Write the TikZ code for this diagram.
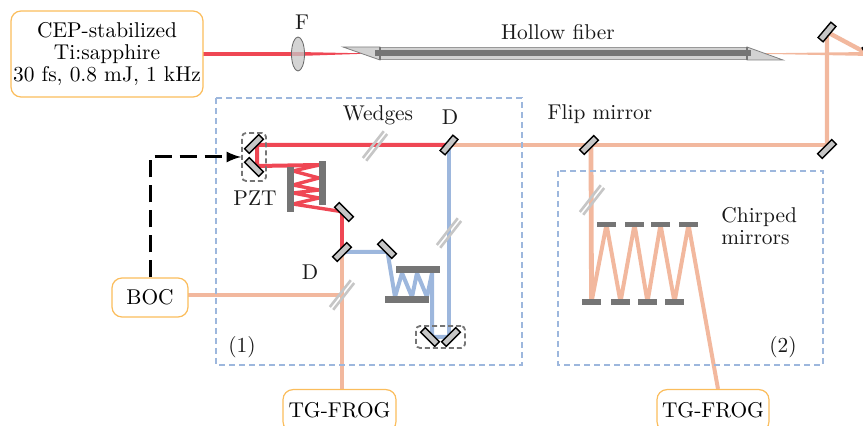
\documentclass[tikz,border=0pt]{standalone}
\usepackage{tikz}
\definecolor{beamred}{RGB}{239, 71, 84}
\definecolor{beampeach}{RGB}{242, 184, 158}
\definecolor{beamblue}{RGB}{157, 183, 221}
\definecolor{boxorange}{RGB}{251, 189, 92}
\definecolor{plategray}{RGB}{117, 117, 117}
\usetikzlibrary{shapes.geometric, arrows, backgrounds}

\begin{document}
\begin{tikzpicture}[x=0.5pt, y=-0.5pt, >=latex,
				font=\fontsize{10.7}{11}\selectfont,
				mirror/.style={draw=black, fill=gray!45, line width=0.7pt, minimum width=10pt, minimum height=3.3pt, inner sep=0pt, rotate=#1},
				plate/.style={fill=plategray, inner sep=0pt, minimum width=#1},
				wedgebar/.style={fill=gray!45, inner sep=0pt, minimum width=17pt, minimum height=1.3pt, rotate=52},
				device/.style={draw=boxorange, rounded corners=5pt, line width=0.6pt, align=center, inner sep=0pt, fill=white},
				groupbox/.style={draw=beamblue, line width=0.6pt, dash pattern=on 3pt off 2pt},
				holder/.style={draw=plategray, line width=0.9pt, dash pattern=on 2.5pt off 1.5pt, rounded corners=2pt, inner sep=0pt},
				label/.style={inner sep=0pt, text=black!90}]
				\useasboundingbox (0,0) rectangle (863,426);
				% Gestrichelte Bereiche
				\draw[groupbox] (216,98) rectangle (522,365);
				\draw[groupbox] (558,171) rectangle (823,365);
				% Geraete
				\node[device, minimum width=96pt, minimum height=43pt] (laser) at (107,54) {CEP-stabilized\\Ti:sapphire\\30 fs, 0.8 mJ, 1 kHz};
				\node[device, minimum width=38pt, minimum height=19.5pt] (boc) at (150,297.5) {BOC};
				\node[device, minimum width=56.5pt, minimum height=21pt, anchor=north] (frogA) at (339.5,389) {TG-FROG};
				\node[device, minimum width=56pt, minimum height=21pt, anchor=north] (frogB) at (713,389) {TG-FROG};
				% Spiegel
				\node[mirror=50] (mirA) at (827,32) {};
				\node[mirror=45] (mirB) at (827,149) {};
				\node[mirror=45] (flipmir) at (589,145) {};
				\node[mirror=50] (dichroA) at (449,145) {};
				\node[mirror=45] (pztA) at (254,144) {};
				\node[mirror=-45] (pztB) at (254,167) {};
				\node[mirror=-45] (mirC) at (344,212) {};
				\node[mirror=45] (dichroB) at (342,252) {};
				\node[mirror=-45] (mirD) at (387,249) {};
				\node[mirror=-45] (delayA) at (430,337) {};
				\node[mirror=45] (delayB) at (451,337) {};
				\node[mirror=-60] (mirE) at (870,55) {};
				% Halter
				\node[holder, minimum width=12pt, minimum height=24pt] (pztbox) at (254,157) {};
				\node[holder, minimum width=24.5pt, minimum height=11pt] (delaybox) at (440.5,337) {};
				% Gechirpte Spiegel
				\foreach \n/\x in {1/606.5, 2/634.5, 3/660.5, 4/688.5} \node[plate=9.5pt, minimum height=2.6pt] (chirpU\n) at (\x,224.5) {};
				\foreach \n/\x in {1/591.5, 2/620.5, 3/647.5, 4/674.5} \node[plate=9.5pt, minimum height=2.6pt] (chirpL\n) at (\x,302) {};
				% Kompressor
				\node[plate=3.5pt, minimum height=22.5pt] (redL) at (290,189.5) {};
				\node[plate=3.5pt, minimum height=22pt] (redR) at (322.5,183) {};
				\node[plate=22pt, minimum height=3.5pt] (blueU) at (418,270) {};
				\node[plate=22pt, minimum height=3.5pt] (blueL) at (407,300) {};
				% Faser
				\fill[gray!35, draw=gray, line width=0.4pt] (343,47) -- (380,47) -- (380,60) -- cycle;
				\fill[gray!35, draw=gray, line width=0.4pt] (747,47) -- (783,60) -- (747,60) -- cycle;
				\fill[gray!35, draw=gray!80, line width=0.6pt] (380,47.5) rectangle (747,59.5);
				\fill[plategray] (375,50.5) rectangle (751,56.5);
				\draw[plategray, line width=0.6pt] (380,47) -- (380,60) (747,47) -- (747,60);
				% Linse
				\node[ellipse, draw=black!60, fill=gray!45, fill opacity=0.75, line width=0.4pt, minimum width=6.5pt, minimum height=17pt, inner sep=0pt] (lens) at (298,54) {};
				% Keile
				\foreach \n/\x/\y in {wedgeA/375/146, wedgeB/449/233, wedgeC/342/295, wedgeD/592/200} {
					\node[wedgebar] (\n a) at (\x-1.7,\y-1.4) {};
					\node[wedgebar] (\n b) at (\x+1.7,\y+1.4) {};
					\coordinate (\n) at (\x,\y);
				}
				% Hilfspunkte der Strahlen
				\foreach \n/\x/\y in {pztU/257/145, pztD/257/166} \coordinate (\n) at (\x,\y);
				\foreach \n/\y in {1/165, 3/178, 5/190, 7/198} \coordinate (redz\n) at (319,\y);
				\foreach \n/\y in {2/171, 4/185, 6/193, 8/204} \coordinate (redz\n) at (293,\y);
				\foreach \n/\x in {1/395, 3/412, 5/427} \coordinate (bluez\n) at (\x,297);
				\foreach \n/\x in {2/402, 4/417, 6/432} \coordinate (bluez\n) at (\x,273);
				% Strahlen
				\begin{scope}[on background layer]
				\begin{scope}[line join=round]
					\draw[beamred, line width=2pt] (laser.center) -- (lens.center);
					\fill[beamred] (298,52) -- (372,53.5) -- (298,56) -- cycle;
					\fill[beampeach] (745,53.5) -- (870,52) -- (870,56) -- cycle;
					\draw[beampeach, line width=2.2pt] (mirE.center) -- (mirA.center) -- (mirB.center);
					\draw[beampeach, line width=2pt] (dichroA.center) -- (dichroA.center -| mirA) -- (mirA.center |- mirB.center);
					\draw[beampeach, line width=2.4pt] (flipmir.center) ++(2,0) -- (chirpL1.center);
					\draw[beampeach, line width=2pt] (chirpL1.center) -- (chirpU1.center) -- (chirpL2.center) -- (chirpU2.center) -- (chirpL3.center) -- (chirpU3.center) -- (chirpL4.center) -- (chirpU4.center) -- ([xshift=2.5pt]frogB.north);
					\draw[beampeach, line width=2pt] (wedgeC -| boc) -- (wedgeC);
					\draw[beampeach, line width=2.4pt] (dichroB.center) -- (dichroB.center |- frogA.north);
					\draw[beamred, line width=2pt] (dichroA.center) -- (dichroA.center -| pztU) -- (pztD) -- (redz1);
					\draw[beamred, line width=1.7pt] (redz1) -- (redz2) -- (redz3) -- (redz4) -- (redz5) -- (redz6) -- (redz7) -- (redz8) -- (mirC.center);
					\draw[beamred, line width=2.2pt] (mirC.center -| dichroB) -- (dichroB.center);
					\draw[beamblue, line width=2.4pt] (dichroA.center) -- (dichroA.center |- delayB.center);
					\draw[beamblue, line width=2pt] (dichroB.center) -- (dichroB.center -| mirD) -- (mirD.center) -- (bluez1) -- (bluez2) -- (bluez3) -- (bluez4) -- (bluez5) -- (bluez6) -- (bluez6 |- delayA.center) -- (dichroA.center |- delayB.center);
				\end{scope}
				\end{scope}
				% Verzoegerung
				\draw[->, line width=1.5pt, dash pattern=on 8.5pt off 4pt] (boc) |- (pztbox.west);
				% Beschriftung
				\node[label] (lensname) at (302,22) {F};
				\node[label] (fibername) at (558,32) {Hollow fiber};
				\node[label] (wedgename) at (378,115) {Wedges};
				\node[label] (dname) at (450,117) {D};
				\node[label] (flipname) at (600,114) {Flip mirror};
				\node[label] (pztname) at (255,198) {PZT};
				\node[label] (dnameB) at (310,272) {D};
				\node[label] (groupA) at (242,347) {(1)};
				\node[label] (groupB) at (783,347) {(2)};
				\node[label, align=left, anchor=west] (chirpname) at (721,226) {Chirped\\mirrors};
			\end{tikzpicture}
\end{document}
